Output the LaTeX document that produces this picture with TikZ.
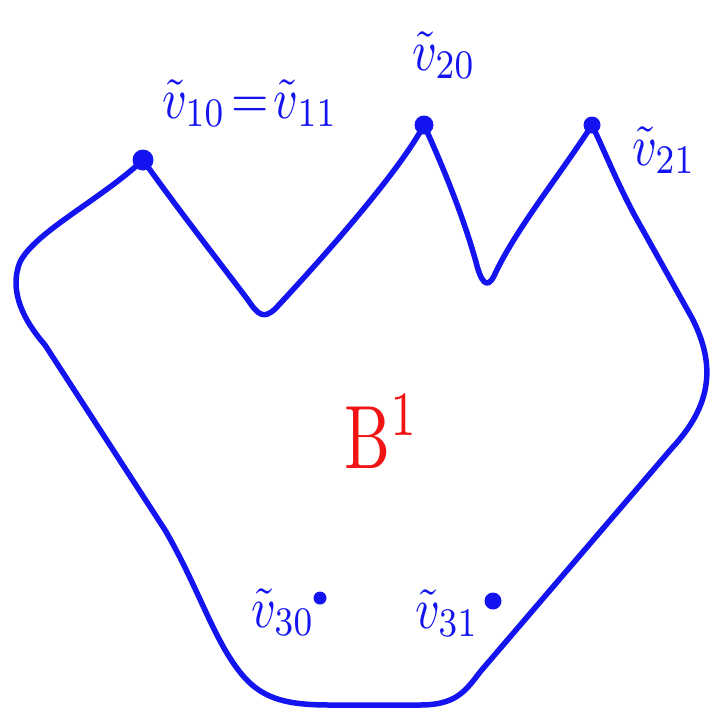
\documentclass[tikz,border=0pt]{standalone}
\usepackage{amsmath}
\usepackage{graphicx}
\definecolor{pen}{RGB}{20,20,240}
\definecolor{redpen}{RGB}{240,20,20}
\tikzset{
  curve/.style={draw=pen,line width=5.5pt,line cap=round,line join=round},
  vdot/.style={circle,fill=pen,inner sep=0pt,minimum size=#1},
  vlabel/.style={text=pen,inner sep=0pt},
}
\newcommand{\bigv}[1]{\scalebox{4.8}[5.8]{$\tilde{v}_{#1}$}}
\begin{document}
\begin{tikzpicture}[x=1pt,y=-1pt]
\useasboundingbox (0,0) rectangle (721,716);
\node[vdot=21pt] (v10) at (143,160) {};
\node[vdot=19pt] (v20) at (424,125) {};
\node[vdot=17pt] (v21) at (592,125) {};
\node[vdot=13pt] (v30) at (320,598) {};
\node[vdot=17pt] (v31) at (493,601) {};
\draw[curve] (v10.center) .. controls (100,200) and (35,232) .. (20,262)
  .. controls (8,292) and (25,322) .. (45,345)
  -- (165,530) .. controls (200,590) and (215,645) .. (245,678)
  .. controls (265,700) and (290,705) .. (330,705)
  -- (420,705) .. controls (455,705) and (465,692) .. (480,672)
  -- (672,448) .. controls (712,405) and (716,365) .. (692,318)
  -- (640,225) .. controls (620,190) and (605,152) .. (v21.center)
  .. controls (560,175) and (515,230) .. (494,276)
  .. controls (487,290) and (481,282) .. (476,262)
  .. controls (462,212) and (440,160) .. (v20.center)
  .. controls (400,170) and (330,250) .. (276,308)
  .. controls (264,320) and (258,315) .. (248,300)
  .. controls (210,250) and (175,205) .. (v10.center);
\node[vlabel] (l10) at (250,103) {\scalebox{4.8}[5.8]{$\tilde{v}_{10}\!=\!\tilde{v}_{11}$}};
\node[vlabel] (l20) at (444,55) {\bigv{20}};
\node[vlabel] (l21) at (664,150) {\bigv{21}};
\node[vlabel] (l30) at (283,612) {\bigv{30}};
\node[vlabel] (l31) at (447,613) {\bigv{31}};
\node[text=redpen,inner sep=0pt] (B) at (382,432) {\scalebox{6.5}[9]{$\mathrm{B}^{1}$}};
\end{tikzpicture}
\end{document}
